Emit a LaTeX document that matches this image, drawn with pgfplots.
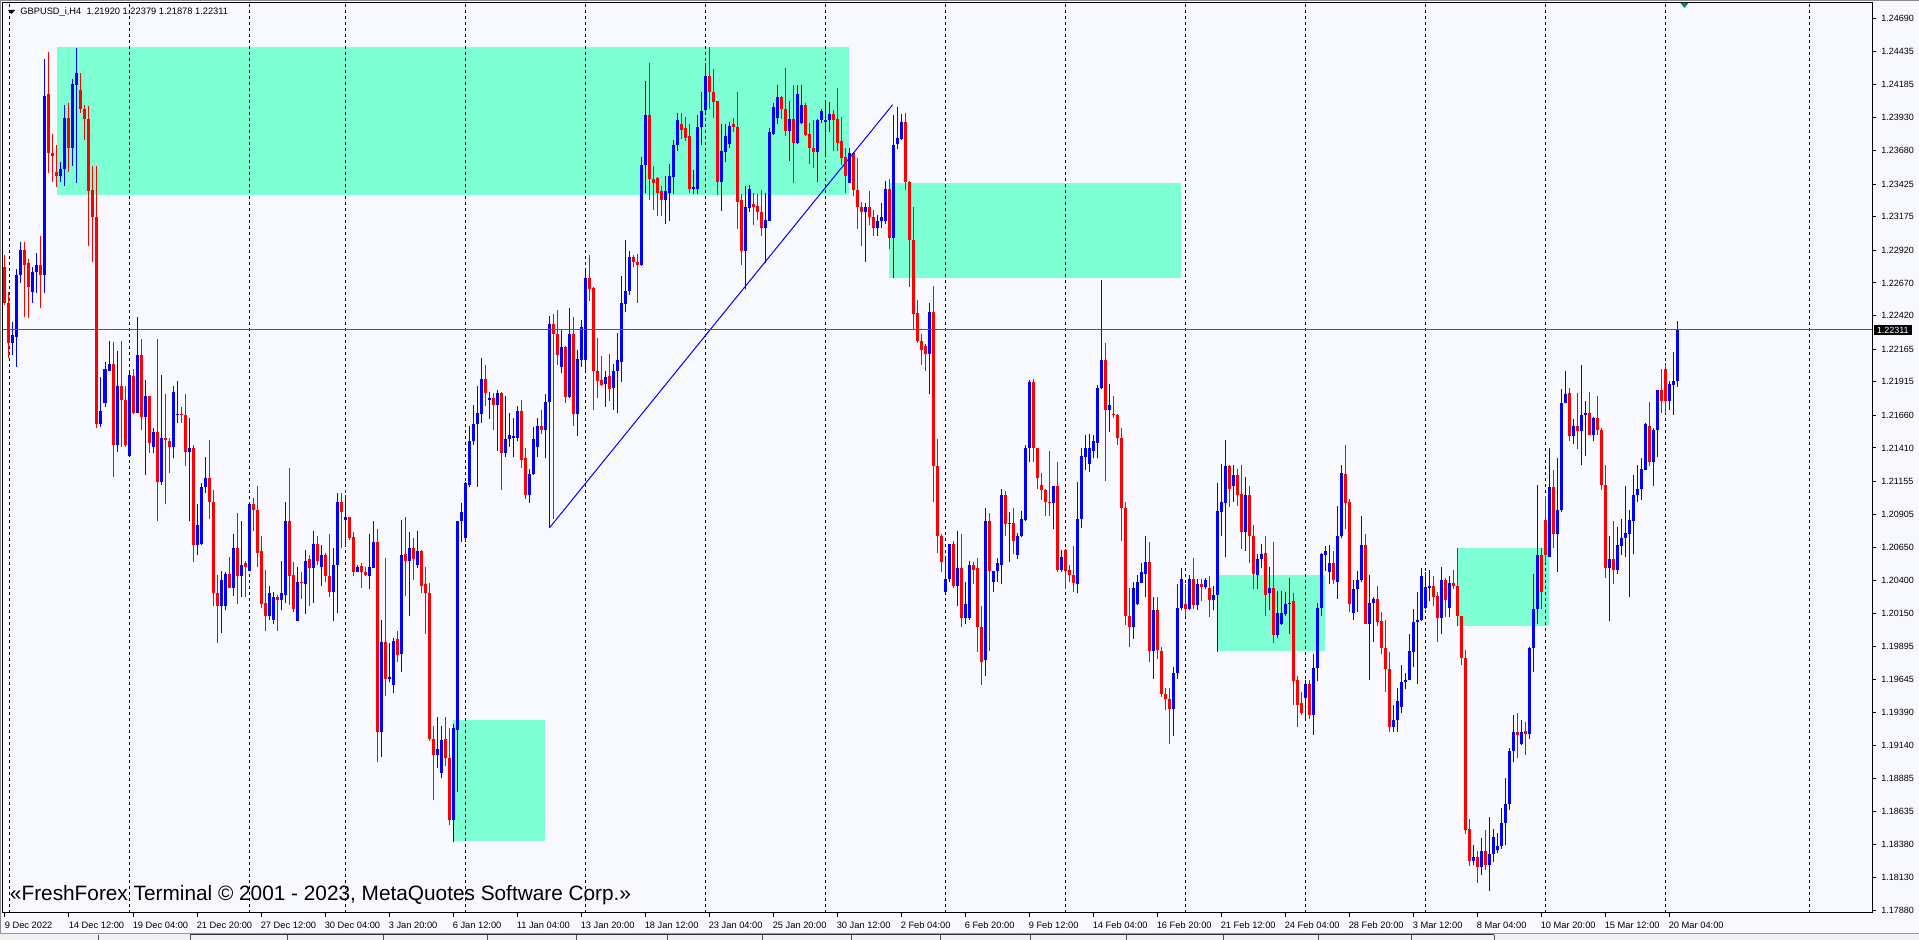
\documentclass[border=0pt]{standalone}
\usepackage{pgfplots}
\pgfplotsset{compat=1.18}
\usepackage{pgfplotstable}
\usepackage{fontspec}
\setmainfont{Liberation Sans}
\definecolor{bg}{RGB}{248,248,255}
\definecolor{zone}{RGB}{127,255,212}
\definecolor{tealline}{RGB}{0,128,128}
\definecolor{bull}{RGB}{0,0,255}
\definecolor{bear}{RGB}{255,0,0}

\pgfplotstableread{
i o h l c
0 1.2279 1.2288 1.2250 1.2252
1 1.2252 1.2260 1.2210 1.2221
2 1.2221 1.2237 1.2212 1.2227
3 1.2226 1.2278 1.2203 1.2273
4 1.2273 1.2298 1.2267 1.2292
5 1.2292 1.2298 1.2241 1.2281
6 1.2282 1.2285 1.2240 1.2264
7 1.2260 1.2279 1.2252 1.2275
8 1.2275 1.2290 1.2259 1.2281
9 1.2281 1.2303 1.2248 1.2273
10 1.2273 1.2438 1.2259 1.2410
11 1.2411 1.2443 1.2351 1.2366
12 1.2366 1.2381 1.2344 1.2364
13 1.2352 1.2372 1.2340 1.2349
14 1.2349 1.2359 1.2344 1.2354
15 1.2354 1.2403 1.2341 1.2393
16 1.2393 1.2404 1.2352 1.2370
17 1.2370 1.2423 1.2356 1.2419
18 1.2418 1.2446 1.2343 1.2427
19 1.2414 1.2427 1.2397 1.2400
20 1.2400 1.2403 1.2376 1.2392
21 1.2392 1.2402 1.2295 1.2337
22 1.2338 1.2356 1.2283 1.2317
23 1.2317 1.2356 1.2156 1.2159
24 1.2159 1.2195 1.2157 1.2169
25 1.2175 1.2207 1.2172 1.2201
26 1.2200 1.2223 1.2200 1.2205
27 1.2205 1.2222 1.2119 1.2143
28 1.2143 1.2215 1.2138 1.2188
29 1.2188 1.2223 1.2142 1.2178
30 1.2178 1.2188 1.2142 1.2143
31 1.2135 1.2198 1.2134 1.2197
32 1.2196 1.2201 1.2167 1.2168
33 1.2168 1.2241 1.2168 1.2212
34 1.2212 1.2224 1.2155 1.2165
35 1.2165 1.2193 1.2120 1.2181
36 1.2181 1.2181 1.2137 1.2145
37 1.2142 1.2156 1.2137 1.2153
38 1.2153 1.2224 1.2085 1.2115
39 1.2115 1.2197 1.2113 1.2149
40 1.2149 1.2182 1.2098 1.2147
41 1.2146 1.2149 1.2122 1.2142
42 1.2142 1.2188 1.2133 1.2184
43 1.2166 1.2192 1.2160 1.2167
44 1.2167 1.2172 1.2160 1.2166
45 1.2166 1.2182 1.2127 1.2138
46 1.2138 1.2164 1.2085 1.2141
47 1.2141 1.2143 1.2054 1.2067
48 1.2067 1.2098 1.2059 1.2082
49 1.2068 1.2114 1.2067 1.2111
50 1.2111 1.2134 1.2107 1.2118
51 1.2118 1.2147 1.2087 1.2100
52 1.2100 1.2109 1.2020 1.2030
53 1.2030 1.2044 1.1992 1.2020
54 1.2020 1.2047 1.2000 1.2040
55 1.2020 1.2046 1.2017 1.2045
56 1.2045 1.2058 1.2034 1.2034
57 1.2034 1.2075 1.2028 1.2065
58 1.2065 1.2091 1.2022 1.2043
59 1.2043 1.2085 1.2027 1.2052
60 1.2053 1.2055 1.2027 1.2050
61 1.2047 1.2100 1.2047 1.2098
62 1.2098 1.2103 1.2078 1.2094
63 1.2094 1.2112 1.2050 1.2061
64 1.2062 1.2074 1.2019 1.2022
65 1.2023 1.2048 1.2001 1.2013
66 1.2013 1.2036 1.2010 1.2030
67 1.2010 1.2031 1.2007 1.2027
68 1.2027 1.2029 1.2001 1.2025
69 1.2025 1.2055 1.2017 1.2030
70 1.2029 1.2100 1.2023 1.2085
71 1.2085 1.2126 1.2021 1.2043
72 1.2044 1.2054 1.2016 1.2018
73 1.2009 1.2050 1.2009 1.2039
74 1.2039 1.2046 1.2026 1.2038
75 1.2037 1.2063 1.2014 1.2055
76 1.2056 1.2059 1.2020 1.2049
77 1.2049 1.2078 1.2023 1.2068
78 1.2068 1.2074 1.2052 1.2055
79 1.2050 1.2067 1.2036 1.2059
80 1.2059 1.2061 1.2039 1.2043
81 1.2043 1.2075 1.2027 1.2031
82 1.2031 1.2065 1.2009 1.2052
83 1.2052 1.2107 1.2015 1.2100
84 1.2100 1.2107 1.2065 1.2092
85 1.2086 1.2105 1.2066 1.2088
86 1.2088 1.2088 1.2071 1.2072
87 1.2073 1.2077 1.2043 1.2046
88 1.2046 1.2052 1.2046 1.2050
89 1.2051 1.2053 1.2034 1.2046
90 1.2046 1.2050 1.2043 1.2044
91 1.2043 1.2075 1.2033 1.2050
92 1.2049 1.2085 1.2049 1.2069
93 1.2069 1.2079 1.1901 1.1924
94 1.1924 1.2010 1.1905 1.1993
95 1.1993 1.2057 1.1952 1.1965
96 1.1965 1.1992 1.1962 1.1966
97 1.1960 1.1996 1.1954 1.1994
98 1.1995 1.2001 1.1978 1.1983
99 1.1984 1.2086 1.1970 1.2059
100 1.2060 1.2088 1.2028 1.2055
101 1.2055 1.2077 1.2013 1.2065
102 1.2065 1.2072 1.2040 1.2056
103 1.2052 1.2078 1.2049 1.2062
104 1.2062 1.2063 1.2030 1.2036
105 1.2037 1.2050 1.1999 1.2030
106 1.2030 1.2038 1.1917 1.1919
107 1.1919 1.1929 1.1872 1.1907
108 1.1907 1.1936 1.1897 1.1911
109 1.1893 1.1929 1.1889 1.1918
110 1.1919 1.1936 1.1898 1.1904
111 1.1904 1.1927 1.1853 1.1857
112 1.1857 1.1930 1.1840 1.1927
113 1.1926 1.2085 1.1878 1.2085
114 1.2085 1.2099 1.2069 1.2092
115 1.2072 1.2115 1.2069 1.2114
116 1.2113 1.2158 1.2111 1.2146
117 1.2146 1.2174 1.2143 1.2159
118 1.2159 1.2188 1.2111 1.2168
119 1.2167 1.2210 1.2160 1.2194
120 1.2194 1.2204 1.2173 1.2183
121 1.2178 1.2184 1.2163 1.2179
122 1.2179 1.2183 1.2155 1.2174
123 1.2174 1.2185 1.2139 1.2183
124 1.2183 1.2184 1.2109 1.2137
125 1.2137 1.2181 1.2134 1.2148
126 1.2148 1.2168 1.2142 1.2151
127 1.2149 1.2164 1.2134 1.2150
128 1.2149 1.2173 1.2146 1.2169
129 1.2169 1.2178 1.2126 1.2132
130 1.2133 1.2141 1.2102 1.2105
131 1.2105 1.2125 1.2099 1.2121
132 1.2121 1.2157 1.2120 1.2148
133 1.2142 1.2164 1.2134 1.2158
134 1.2158 1.2170 1.2152 1.2155
135 1.2155 1.2182 1.2133 1.2176
136 1.2176 1.2242 1.2081 1.2236
137 1.2236 1.2243 1.2087 1.2228
138 1.2228 1.2246 1.2204 1.2212
139 1.2203 1.2232 1.2198 1.2218
140 1.2218 1.2219 1.2175 1.2180
141 1.2180 1.2248 1.2179 1.2228
142 1.2228 1.2241 1.2158 1.2167
143 1.2167 1.2216 1.2150 1.2209
144 1.2208 1.2239 1.2203 1.2233
145 1.2208 1.2276 1.2200 1.2271
146 1.2271 1.2288 1.2253 1.2262
147 1.2263 1.2264 1.2170 1.2200
148 1.2200 1.2225 1.2179 1.2192
149 1.2193 1.2211 1.2188 1.2189
150 1.2190 1.2200 1.2172 1.2195
151 1.2196 1.2213 1.2177 1.2186
152 1.2187 1.2205 1.2170 1.2200
153 1.2200 1.2229 1.2168 1.2208
154 1.2207 1.2272 1.2191 1.2252
155 1.2251 1.2300 1.2245 1.2261
156 1.2261 1.2291 1.2258 1.2287
157 1.2287 1.2288 1.2279 1.2283
158 1.2283 1.2289 1.2252 1.2281
159 1.2281 1.2363 1.2280 1.2357
160 1.2357 1.2421 1.2336 1.2395
161 1.2395 1.2435 1.2330 1.2346
162 1.2346 1.2356 1.2323 1.2343
163 1.2347 1.2348 1.2318 1.2336
164 1.2337 1.2341 1.2318 1.2330
165 1.2330 1.2349 1.2312 1.2337
166 1.2336 1.2358 1.2314 1.2349
167 1.2348 1.2376 1.2335 1.2372
168 1.2372 1.2397 1.2368 1.2391
169 1.2388 1.2397 1.2377 1.2384
170 1.2385 1.2394 1.2375 1.2378
171 1.2379 1.2388 1.2336 1.2339
172 1.2339 1.2353 1.2335 1.2340
173 1.2339 1.2395 1.2335 1.2386
174 1.2386 1.2413 1.2372 1.2398
175 1.2399 1.2435 1.2397 1.2425
176 1.2425 1.2447 1.2400 1.2413
177 1.2413 1.2430 1.2393 1.2405
178 1.2406 1.2406 1.2334 1.2344
179 1.2344 1.2388 1.2322 1.2368
180 1.2367 1.2388 1.2359 1.2379
181 1.2373 1.2390 1.2370 1.2387
182 1.2388 1.2393 1.2382 1.2386
183 1.2386 1.2413 1.2308 1.2329
184 1.2330 1.2335 1.2281 1.2291
185 1.2291 1.2341 1.2262 1.2325
186 1.2324 1.2342 1.2321 1.2339
187 1.2327 1.2336 1.2311 1.2325
188 1.2326 1.2335 1.2315 1.2321
189 1.2321 1.2338 1.2303 1.2309
190 1.2309 1.2336 1.2282 1.2315
191 1.2314 1.2385 1.2314 1.2382
192 1.2381 1.2404 1.2380 1.2401
193 1.2393 1.2418 1.2388 1.2409
194 1.2409 1.2410 1.2392 1.2400
195 1.2400 1.2431 1.2379 1.2383
196 1.2383 1.2406 1.2360 1.2392
197 1.2392 1.2418 1.2343 1.2374
198 1.2374 1.2418 1.2373 1.2411
199 1.2389 1.2418 1.2388 1.2403
200 1.2403 1.2404 1.2379 1.2380
201 1.2381 1.2389 1.2358 1.2370
202 1.2370 1.2391 1.2355 1.2367
203 1.2367 1.2392 1.2344 1.2391
204 1.2391 1.2400 1.2389 1.2398
205 1.2390 1.2404 1.2364 1.2391
206 1.2391 1.2405 1.2382 1.2396
207 1.2396 1.2399 1.2368 1.2391
208 1.2392 1.2416 1.2368 1.2374
209 1.2375 1.2394 1.2357 1.2362
210 1.2363 1.2370 1.2336 1.2349
211 1.2343 1.2370 1.2343 1.2366
212 1.2366 1.2367 1.2333 1.2338
213 1.2338 1.2362 1.2308 1.2325
214 1.2325 1.2329 1.2295 1.2321
215 1.2321 1.2328 1.2283 1.2325
216 1.2325 1.2337 1.2311 1.2317
217 1.2317 1.2323 1.2303 1.2309
218 1.2309 1.2319 1.2303 1.2314
219 1.2314 1.2328 1.2309 1.2317
220 1.2314 1.2345 1.2312 1.2339
221 1.2339 1.2346 1.2293 1.2301
222 1.2301 1.2395 1.2271 1.2372
223 1.2373 1.2401 1.2369 1.2378
224 1.2377 1.2396 1.2376 1.2390
225 1.2390 1.2397 1.2338 1.2344
226 1.2344 1.2345 1.2264 1.2300
227 1.2300 1.2325 1.2231 1.2243
228 1.2244 1.2254 1.2221 1.2223
229 1.2223 1.2228 1.2204 1.2216
230 1.2219 1.2220 1.2200 1.2213
231 1.2213 1.2252 1.2182 1.2245
232 1.2245 1.2265 1.2100 1.2127
233 1.2127 1.2148 1.2061 1.2074
234 1.2074 1.2075 1.2046 1.2054
235 1.2031 1.2056 1.2030 1.2041
236 1.2041 1.2068 1.2039 1.2068
237 1.2068 1.2070 1.2034 1.2036
238 1.2036 1.2078 1.2020 1.2049
239 1.2049 1.2075 1.2004 1.2011
240 1.2011 1.2039 1.2007 1.2022
241 1.2011 1.2055 1.2010 1.2052
242 1.2052 1.2054 1.2037 1.2048
243 1.2049 1.2057 1.1985 1.2004
244 1.2004 1.2020 1.1960 1.1978
245 1.1979 1.2095 1.1967 1.2085
246 1.2085 1.2091 1.1986 1.2047
247 1.2039 1.2047 1.2031 1.2047
248 1.2047 1.2057 1.2039 1.2053
249 1.2052 1.2110 1.2037 1.2105
250 1.2105 1.2108 1.2074 1.2083
251 1.2083 1.2092 1.2054 1.2084
252 1.2084 1.2095 1.2060 1.2070
253 1.2059 1.2076 1.2056 1.2074
254 1.2074 1.2093 1.2073 1.2087
255 1.2086 1.2143 1.2085 1.2141
256 1.2141 1.2193 1.2130 1.2191
257 1.2191 1.2194 1.2130 1.2141
258 1.2141 1.2141 1.2110 1.2118
259 1.2113 1.2122 1.2101 1.2109
260 1.2109 1.2110 1.2089 1.2100
261 1.2100 1.2139 1.2089 1.2099
262 1.2099 1.2112 1.2079 1.2112
263 1.2112 1.2130 1.2046 1.2048
264 1.2048 1.2063 1.2046 1.2058
265 1.2063 1.2064 1.2033 1.2047
266 1.2048 1.2052 1.2039 1.2044
267 1.2044 1.2066 1.2031 1.2038
268 1.2037 1.2115 1.2030 1.2087
269 1.2087 1.2141 1.2080 1.2135
270 1.2134 1.2151 1.2124 1.2141
271 1.2129 1.2152 1.2123 1.2141
272 1.2139 1.2151 1.2133 1.2146
273 1.2145 1.2189 1.2133 1.2187
274 1.2187 1.2269 1.2186 1.2208
275 1.2208 1.2221 1.2116 1.2170
276 1.2170 1.2190 1.2153 1.2174
277 1.2167 1.2181 1.2164 1.2166
278 1.2166 1.2167 1.2143 1.2149
279 1.2149 1.2156 1.2070 1.2095
280 1.2095 1.2100 1.2006 1.2013
281 1.2013 1.2034 1.1989 1.2004
282 1.2004 1.2039 1.1995 1.2034
283 1.2022 1.2044 1.2021 1.2039
284 1.2038 1.2053 1.2038 1.2046
285 1.2045 1.2074 1.2027 1.2054
286 1.2054 1.2069 1.1978 1.1986
287 1.1986 1.2027 1.1965 1.2017
288 1.2017 1.2027 1.1980 1.1987
289 1.1986 1.1989 1.1951 1.1953
290 1.1953 1.1958 1.1941 1.1949
291 1.1949 1.1958 1.1915 1.1942
292 1.1942 1.1974 1.1921 1.1969
293 1.1969 1.2037 1.1965 1.2019
294 1.2019 1.2049 1.2017 1.2041
295 1.2022 1.2037 1.2013 1.2018
296 1.2018 1.2044 1.2017 1.2041
297 1.2041 1.2057 1.2018 1.2021
298 1.2021 1.2041 1.2017 1.2037
299 1.2037 1.2041 1.2024 1.2035
300 1.2035 1.2042 1.2033 1.2040
301 1.2034 1.2043 1.2012 1.2025
302 1.2025 1.2036 1.2017 1.2029
303 1.2029 1.2114 1.1985 1.2093
304 1.2092 1.2129 1.2074 1.2100
305 1.2099 1.2147 1.2058 1.2127
306 1.2127 1.2128 1.2096 1.2110
307 1.2112 1.2128 1.2100 1.2120
308 1.2120 1.2125 1.2097 1.2105
309 1.2106 1.2128 1.2064 1.2077
310 1.2077 1.2119 1.2062 1.2105
311 1.2105 1.2112 1.2053 1.2074
312 1.2074 1.2082 1.2033 1.2045
313 1.2044 1.2060 1.2033 1.2056
314 1.2056 1.2068 1.2049 1.2060
315 1.2061 1.2074 1.2013 1.2029
316 1.2030 1.2050 1.2017 1.2034
317 1.2034 1.2069 1.1992 1.1998
318 1.1998 1.2032 1.1996 1.2015
319 1.2007 1.2032 1.2006 1.2015
320 1.2014 1.2031 1.2013 1.2022
321 1.2022 1.2042 1.1999 1.2023
322 1.2024 1.2030 1.1945 1.1963
323 1.1964 1.1967 1.1928 1.1945
324 1.1946 1.1955 1.1937 1.1939
325 1.1950 1.1964 1.1934 1.1961
326 1.1961 1.1964 1.1934 1.1937
327 1.1937 1.1984 1.1922 1.1973
328 1.1973 1.2023 1.1963 1.2019
329 1.2019 1.2061 1.2013 1.2060
330 1.2059 1.2066 1.2047 1.2062
331 1.2046 1.2067 1.2037 1.2053
332 1.2053 1.2062 1.2037 1.2040
333 1.2039 1.2097 1.2026 1.2074
334 1.2074 1.2128 1.2072 1.2122
335 1.2121 1.2143 1.2079 1.2099
336 1.2100 1.2102 1.2016 1.2022
337 1.2015 1.2040 1.2010 1.2033
338 1.2033 1.2047 1.2016 1.2040
339 1.2040 1.2089 1.2039 1.2067
340 1.2067 1.2075 1.2007 1.2007
341 1.2007 1.2044 1.1964 1.2023
342 1.2023 1.2027 1.1993 1.2026
343 1.2026 1.2036 1.2005 1.2008
344 1.2009 1.2016 1.1984 1.1988
345 1.1988 1.2010 1.1955 1.1972
346 1.1972 1.1985 1.1924 1.1928
347 1.1928 1.1945 1.1924 1.1933
348 1.1933 1.1958 1.1924 1.1948
349 1.1943 1.1975 1.1939 1.1962
350 1.1962 1.1969 1.1957 1.1964
351 1.1964 1.1999 1.1964 1.1986
352 1.1985 1.2018 1.1974 1.2008
353 1.2008 1.2031 1.1961 1.2010
354 1.2010 1.2049 1.2009 1.2043
355 1.2019 1.2046 1.2018 1.2035
356 1.2034 1.2048 1.2024 1.2036
357 1.2036 1.2043 1.2020 1.2027
358 1.2028 1.2031 1.1993 1.2011
359 1.2011 1.2050 1.1999 1.2040
360 1.2040 1.2042 1.2012 1.2025
361 1.2019 1.2043 1.2012 1.2038
362 1.2038 1.2048 1.2033 1.2036
363 1.2036 1.2065 1.2005 1.2013
364 1.2013 1.2013 1.1975 1.1981
365 1.1981 1.1987 1.1846 1.1849
366 1.1850 1.1858 1.1822 1.1826
367 1.1826 1.1838 1.1823 1.1829
368 1.1829 1.1833 1.1809 1.1821
369 1.1821 1.1843 1.1815 1.1833
370 1.1833 1.1849 1.1819 1.1823
371 1.1823 1.1859 1.1803 1.1831
372 1.1831 1.1850 1.1825 1.1844
373 1.1834 1.1847 1.1832 1.1837
374 1.1837 1.1866 1.1835 1.1855
375 1.1855 1.1889 1.1838 1.1869
376 1.1869 1.1912 1.1865 1.1910
377 1.1910 1.1937 1.1901 1.1924
378 1.1924 1.1939 1.1904 1.1922
379 1.1915 1.1933 1.1914 1.1924
380 1.1925 1.1932 1.1907 1.1923
381 1.1923 1.1989 1.1919 1.1988
382 1.1988 1.2045 1.1970 1.2018
383 1.2018 1.2113 1.2007 1.2059
384 1.2059 1.2065 1.2018 1.2031
385 1.2086 1.2104 1.2053 1.2059
386 1.2058 1.2141 1.2058 1.2111
387 1.2111 1.2124 1.2065 1.2075
388 1.2075 1.2133 1.2046 1.2094
389 1.2094 1.2186 1.2092 1.2175
390 1.2175 1.2200 1.2175 1.2182
391 1.2183 1.2187 1.2146 1.2150
392 1.2150 1.2163 1.2144 1.2158
393 1.2158 1.2183 1.2140 1.2154
394 1.2154 1.2204 1.2128 1.2166
395 1.2166 1.2177 1.2135 1.2168
396 1.2168 1.2184 1.2151 1.2151
397 1.2151 1.2165 1.2146 1.2164
398 1.2164 1.2181 1.2151 1.2155
399 1.2155 1.2156 1.2109 1.2113
400 1.2113 1.2128 1.2042 1.2049
401 1.2049 1.2074 1.2009 1.2056
402 1.2056 1.2085 1.2037 1.2048
403 1.2048 1.2081 1.2045 1.2067
404 1.2066 1.2087 1.2059 1.2072
405 1.2072 1.2112 1.2058 1.2076
406 1.2075 1.2094 1.2027 1.2086
407 1.2085 1.2120 1.2060 1.2105
408 1.2105 1.2128 1.2100 1.2110
409 1.2110 1.2133 1.2101 1.2125
410 1.2124 1.2160 1.2124 1.2159
411 1.2158 1.2176 1.2127 1.2130
412 1.2130 1.2156 1.2112 1.2155
413 1.2155 1.2185 1.2134 1.2185
414 1.2185 1.2201 1.2168 1.2177
415 1.2201 1.2206 1.2168 1.2177
416 1.2177 1.2192 1.2170 1.2190
417 1.2189 1.2214 1.2166 1.2192
418 1.21920 1.22379 1.21878 1.22311
}\candles

\begin{document}
\begin{tikzpicture}
% window background
\fill[bg] (0,0) rectangle (959.5pt,470pt);
\draw[black!45, line width=0.5pt] (0,469.75pt) -- (959.5pt,469.75pt);
\draw[black!45, line width=0.5pt] (0.25pt,2.5pt) -- (0.25pt,470pt);
% tab bar
\fill[black!6] (0,0) rectangle (959.5pt,3pt);
\draw[black!40, line width=0.5pt] (0,3pt) -- (959.5pt,3pt);
\draw[black!80, line width=0.5pt] (95pt,2.5pt) -- (747pt,2.5pt);
\foreach \s in {49,95,143.5,191.5,243.5,288,333.5,381,425.5,470,515,563,611.5,659,705.5,747}
  \draw[black!70, line width=0.5pt] (\s pt,0) -- (\s pt,2.5pt);

\begin{axis}[
  at={(1.5pt,13.5pt)}, anchor=south west,
  scale only axis, width=934.5pt, height=455pt,
  xmin=-0.5, xmax=466.75, ymin=1.178602, ymax=1.248071,
  axis background/.style={fill=bg},
  axis line style={black, line width=0.5pt},
  tick align=outside, major tick length=2pt,
  every tick/.style={black, line width=0.5pt},
  xtick pos=bottom, ytick pos=right, yticklabel pos=right,
  xtick={0,16,...,416},
  xticklabels={9 Dec 2022,14 Dec 12:00,19 Dec 04:00,21 Dec 20:00,27 Dec 12:00,30 Dec 04:00,3 Jan 20:00,6 Jan 12:00,11 Jan 04:00,13 Jan 20:00,18 Jan 12:00,23 Jan 04:00,25 Jan 20:00,30 Jan 12:00,2 Feb 04:00,6 Feb 20:00,9 Feb 12:00,14 Feb 04:00,16 Feb 20:00,21 Feb 12:00,24 Feb 04:00,28 Feb 20:00,3 Mar 12:00,8 Mar 04:00,10 Mar 20:00,15 Mar 12:00,20 Mar 04:00},
  ytick={1.24690,1.24435,1.24185,1.23930,1.23680,1.23425,1.23175,1.22920,1.22670,1.22420,1.22165,1.21915,1.21660,1.21410,1.21155,1.20905,1.20650,1.20400,1.20150,1.19895,1.19645,1.19390,1.19140,1.18885,1.18635,1.18380,1.18130,1.17880},
  yticklabels={1.24690,1.24435,1.24185,1.23930,1.23680,1.23425,1.23175,1.22920,1.22670,1.22420,1.22165,1.21915,1.21660,1.21410,1.21155,1.20905,1.20650,1.20400,1.20150,1.19895,1.19645,1.19390,1.19140,1.18885,1.18635,1.18380,1.18130,1.17880},
  xticklabel style={font=\fontsize{4.65}{5}\selectfont, anchor=north west, inner sep=0pt, yshift=-2.3pt, xshift=-0.3pt},
  yticklabel style={font=\fontsize{4.5}{5}\selectfont, anchor=west, inner sep=0pt, xshift=2.5pt},
]
% zones
\addplot[fill=zone, draw=none] coordinates {(13,1.2334) (210.9,1.2334) (210.9,1.2447) (13,1.2447)} -- cycle;
\addplot[fill=zone, draw=none] coordinates {(221.1,1.2271) (294,1.2271) (294,1.2343) (221.1,1.2343)} -- cycle;
\addplot[fill=zone, draw=none] coordinates {(112.1,1.1841) (134.9,1.1841) (134.9,1.1933) (112.1,1.1933)} -- cycle;
\addplot[fill=zone, draw=none] coordinates {(303.2,1.1986) (330,1.1986) (330,1.2044) (303.2,1.2044)} -- cycle;
\addplot[fill=zone, draw=none] coordinates {(363.1,1.2005) (385.9,1.2005) (385.9,1.2065) (363.1,1.2065)} -- cycle;
% vertical separators (grid)
\addplot[ycomb, mark=none, black, line width=0.5pt, dash pattern=on 1.5pt off 1.5pt]
  coordinates {(1.08,1.2481) (31.08,1.2481) (61.08,1.2481) (85.08,1.2481) (115.08,1.2481) (145.08,1.2481) (175.08,1.2481) (205.08,1.2481) (235.08,1.2481) (265.08,1.2481) (295.08,1.2481) (325.08,1.2481) (355.08,1.2481) (385.08,1.2481) (415.08,1.2481) (451.08,1.2481)};
% candles: wicks
\addplot[draw=none, mark=none, error bars/.cd, y dir=plus, y explicit, error mark=none,
  error bar style={draw=bull, line width=0.5pt}]
  table[x=i, y expr={\thisrow{c}>=\thisrow{o} ? \thisrow{l} : nan}, y error expr={\thisrow{h}-\thisrow{l}}] {\candles};
\addplot[draw=none, mark=none, error bars/.cd, y dir=plus, y explicit, error mark=none,
  error bar style={draw=bear, line width=0.5pt}]
  table[x=i, y expr={\thisrow{c}<\thisrow{o} ? \thisrow{l} : nan}, y error expr={\thisrow{h}-\thisrow{l}}] {\candles};
% candles: bodies
\addplot[draw=none, mark=none, error bars/.cd, y dir=plus, y explicit, error mark=none,
  error bar style={draw=bull, line width=1.5pt}]
  table[x=i, y expr={\thisrow{c}>=\thisrow{o} ? \thisrow{o} : nan}, y error expr={max(\thisrow{c}-\thisrow{o},0.00008)}] {\candles};
\addplot[draw=none, mark=none, error bars/.cd, y dir=plus, y explicit, error mark=none,
  error bar style={draw=bear, line width=1.5pt}]
  table[x=i, y expr={\thisrow{c}<\thisrow{o} ? \thisrow{c} : nan}, y error expr={max(\thisrow{o}-\thisrow{c},0.00008)}] {\candles};
% trend line and bid line
\addplot[bull, line width=0.5pt, mark=none] coordinates {(136.1,1.2080) (221.9,1.2403)};
\addplot[tealline, line width=0.5pt, mark=none] coordinates {(-0.5,1.22311) (466.75,1.22311)};
\end{axis}

% title (drawn over the axis background)
\fill[black] (4pt,465pt) -- (7.5pt,465pt) -- (5.75pt,463pt) -- cycle;
\node[anchor=west, inner sep=0pt, font=\fontsize{4.65}{5}\selectfont] at (10pt,464pt)
  {GBPUSD\_i,H4\ \ 1.21920 1.22379 1.21878 1.22311};
% bid label box
\node[anchor=west, fill=black, text=white, inner xsep=1.6pt, inner ysep=0.9pt,
  font=\fontsize{4.5}{5}\selectfont] at (936.6pt,305pt) {1.22311};
% chart shift marker
\fill[tealline] (840.25pt,468.5pt) -- (844.25pt,468.5pt) -- (842.25pt,466pt) -- cycle;
% watermark
\node[anchor=west, inner sep=0pt, font=\fontsize{10.4}{12}\selectfont] at (4.8pt,22.5pt)
  {«FreshForex Terminal © 2001 - 2023, MetaQuotes Software Corp.»};
\pgfresetboundingbox
\useasboundingbox (0,0) rectangle (959.5pt,470pt);
\end{tikzpicture}
\end{document}
